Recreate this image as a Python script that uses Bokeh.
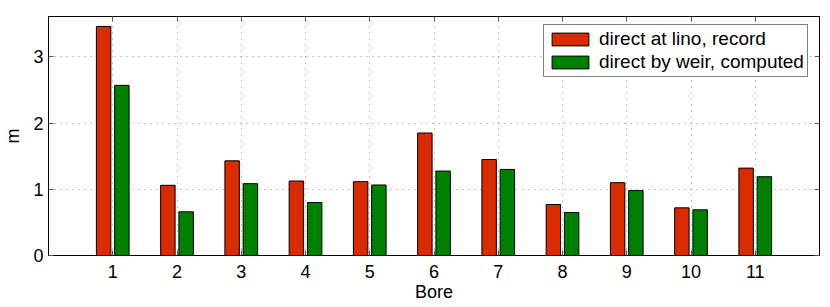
from bokeh.plotting import figure
from bokeh.models import (ColumnDataSource, FixedTicker, LinearAxis, Range1d,
                          Legend, LegendItem)
from bokeh.transform import dodge
from bokeh.embed import file_html
from bokeh.resources import INLINE

# ---- data ----
bores = [1, 2, 3, 4, 5, 6, 7, 8, 9, 10, 11]
lino_record = [3.46, 1.06, 1.43, 1.125, 1.115, 1.85, 1.45, 0.77, 1.10, 0.72, 1.32]
weir_computed = [2.57, 0.66, 1.085, 0.80, 1.065, 1.275, 1.30, 0.65, 0.98, 0.69, 1.19]
y_ticks = [0, 1, 2, 3]
series_names = ["direct at lino, record", "direct by weir, computed"]
x_label = "Bore"
y_label = "m"

RED = "#d92b00"
GREEN = "#008000"
FONT = "Liberation Sans"
FS = "18px"
LFS = "19px"

src = ColumnDataSource(dict(bore=bores, lino=lino_record, weir=weir_computed))

p = figure(width=830, height=307, output_backend="svg", toolbar_location=None,
           x_range=Range1d(0, 12), y_range=Range1d(0, 3.61),
           min_border_left=48, min_border_right=11, min_border_top=16,
           min_border_bottom=52)

p.outline_line_color = "black"
p.outline_line_width = 1
p.background_fill_color = "white"
p.border_fill_color = "white"

r1 = p.vbar(x=dodge("bore", -0.142, range=p.x_range), top="lino", width=0.225,
            source=src, fill_color=RED, line_color="black", line_width=1)
r2 = p.vbar(x=dodge("bore", 0.142, range=p.x_range), top="weir", width=0.225,
            source=src, fill_color=GREEN, line_color="black", line_width=1)

for ax in (p.xaxis[0], p.yaxis[0]):
    ax.major_tick_in = 5
    ax.major_tick_out = 0
    ax.minor_tick_line_color = None
    ax.axis_line_color = "black"
    ax.major_tick_line_color = "#555555"
    ax.major_label_text_font = FONT
    ax.major_label_text_font_size = FS
    ax.major_label_text_color = "black"
    ax.axis_label_text_font = FONT
    ax.axis_label_text_font_size = FS
    ax.axis_label_text_font_style = "normal"
    ax.axis_label_text_color = "black"

p.xaxis.ticker = FixedTicker(ticks=bores)
p.yaxis.ticker = FixedTicker(ticks=y_ticks)
p.xaxis.axis_label = x_label
p.yaxis.axis_label = y_label
p.xaxis.major_label_standoff = 9
p.xaxis.axis_label_standoff = 1
p.yaxis.major_label_standoff = 5
p.yaxis.axis_label_standoff = 7

# mirrored tick marks (top & right) drawn as label-less minor ticks
top = LinearAxis(ticker=FixedTicker(ticks=[], minor_ticks=bores),
                 minor_tick_in=5, minor_tick_out=0, major_tick_in=0, major_tick_out=0,
                 axis_line_color="black", minor_tick_line_color="#555555")
right = LinearAxis(ticker=FixedTicker(ticks=[], minor_ticks=y_ticks),
                   minor_tick_in=5, minor_tick_out=0, major_tick_in=0, major_tick_out=0,
                   axis_line_color="black", minor_tick_line_color="#555555")
p.add_layout(top, "above")
p.add_layout(right, "right")

p.xgrid.ticker = FixedTicker(ticks=bores)
p.ygrid.ticker = FixedTicker(ticks=y_ticks)
p.grid.grid_line_color = "#8a8a8a"
p.grid.grid_line_dash = "1 5"
p.grid.grid_line_width = 1

legend = Legend(items=[LegendItem(label=series_names[0], renderers=[r1]),
                       LegendItem(label=series_names[1], renderers=[r2])],
                location=(495, 178))
legend.label_text_font = FONT
legend.label_text_font_size = LFS
legend.label_text_color = "black"
legend.glyph_width = 46
legend.glyph_height = 16
legend.label_standoff = 6
legend.spacing = 1
legend.padding = 3
legend.margin = 0
legend.border_line_color = "black"
legend.border_line_width = 1
legend.background_fill_alpha = 1
p.add_layout(legend, "center")

open("out.html", "w").write(file_html(p, INLINE))
